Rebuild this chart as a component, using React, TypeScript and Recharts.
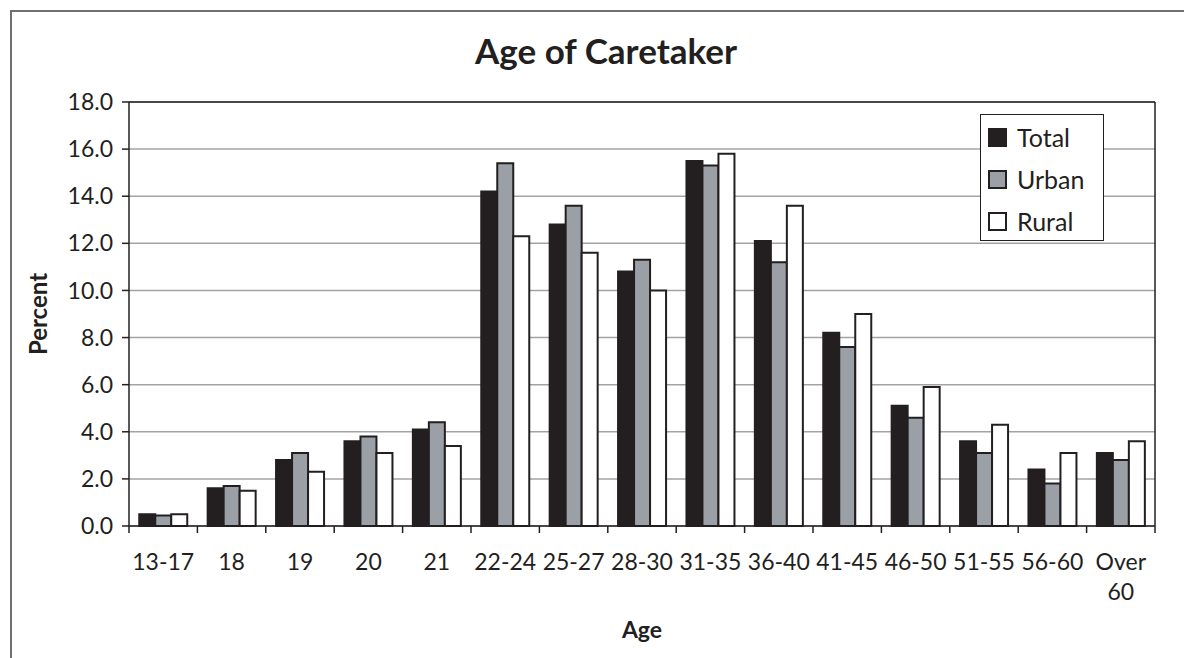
import React from "react";
import { Bar, BarChart, CartesianGrid, Legend, XAxis, YAxis } from "recharts";

const ages = ["13-17", "18", "19", "20", "21", "22-24", "25-27", "28-30", "31-35", "36-40", "41-45", "46-50", "51-55", "56-60", "Over 60"];
const total = [0.5, 1.6, 2.8, 3.6, 4.1, 14.2, 12.8, 10.8, 15.5, 12.1, 8.2, 5.1, 3.6, 2.4, 3.1];
const urban = [0.45, 1.7, 3.1, 3.8, 4.4, 15.4, 13.6, 11.3, 15.3, 11.2, 7.6, 4.6, 3.1, 1.8, 2.8];
const rural = [0.5, 1.5, 2.3, 3.1, 3.4, 12.3, 11.6, 10.0, 15.8, 13.6, 9.0, 5.9, 4.3, 3.1, 3.6];
const yTicks = [0, 2, 4, 6, 8, 10, 12, 14, 16, 18];

const ink = "#231f20";
const font = "Lato, 'Open Sans', sans-serif";

const series = [
  { key: "total", name: "Total", fill: ink },
  { key: "urban", name: "Urban", fill: "#9aa0a6" },
  { key: "rural", name: "Rural", fill: "#ffffff" },
];

const data = ages.map((age, i) => ({ age, total: total[i], urban: urban[i], rural: rural[i] }));

const TICK_MARGIN = 28;

// label at the band centre, tick marks on the band edges (like Excel)
const AgeTick = (props: any) => {
  const { x, y, payload, index } = props;
  const half = payload.offset ?? 0;
  const axisY = y - TICK_MARGIN;
  const isLast = index === ages.length - 1;
  const lines = String(payload.value).split(" ");
  return (
    <g>
      <line x1={x - half} x2={x - half} y1={axisY} y2={axisY + 7} stroke={ink} strokeWidth={1.5} />
      {isLast && <line x1={x + half} x2={x + half} y1={axisY} y2={axisY + 7} stroke={ink} strokeWidth={1.5} />}
      <text x={x} y={y} textAnchor="middle" fill={ink} fontSize={23} fontFamily={font}>
        {lines.map((line, i) => (
          <tspan key={i} x={x} dy={i === 0 ? "0.71em" : 30}>
            {line}
          </tspan>
        ))}
      </text>
    </g>
  );
};

const LegendBox = () => (
  <div
    style={{
      width: 124,
      height: 127,
      boxSizing: "border-box",
      border: `1.5px solid ${ink}`,
      background: "#fff",
      paddingTop: 1,
      fontFamily: font,
      color: ink,
    }}
  >
    {series.map((s) => (
      <div key={s.key} style={{ height: 42, display: "flex", alignItems: "center", paddingLeft: 7 }}>
        <span
          style={{
            width: 19,
            height: 19,
            boxSizing: "border-box",
            background: s.fill,
            border: `2px solid ${ink}`,
            marginRight: 10,
          }}
        />
        <span style={{ fontSize: 25, lineHeight: "25px" }}>{s.name}</span>
      </div>
    ))}
  </div>
);

export default function App() {
  return (
    <div
      style={{
        position: "absolute",
        left: 0,
        top: 0,
        width: 1184,
        height: 658,
        overflow: "hidden",
        background: "#fff",
        fontFamily: font,
      }}
    >
      <div
        style={{
          position: "absolute",
          left: 10,
          top: 10,
          width: 1190,
          height: 720,
          border: "2px solid #707070",
        }}
      />
      <div
        style={{
          position: "absolute",
          left: 11,
          width: 1190,
          top: 29,
          textAlign: "center",
          fontSize: 35,
          fontWeight: 700,
          lineHeight: "normal",
          color: ink,
        }}
      >
        Age of Caretaker
      </div>
      <div style={{ position: "absolute", left: 0, top: 0 }}>
        <BarChart
          width={1184}
          height={658}
          data={data}
          margin={{ top: 101, right: 28, bottom: 0, left: 0 }}
          barGap={0}
          barCategoryGap="15%"
          style={{ fontFamily: font }}
        >
          <CartesianGrid vertical={false} stroke="#a3a3a3" strokeWidth={1.5} />
          <XAxis
            dataKey="age"
            height={132}
            interval={0}
            tickLine={false}
            tickSize={0}
            tickMargin={TICK_MARGIN}
            axisLine={{ stroke: ink, strokeWidth: 1.5 }}
            tick={<AgeTick />}
            label={{
              content: (p: any) => (
                <text
                  x={p.viewBox.x + p.viewBox.width / 2}
                  y={p.viewBox.y + 112}
                  textAnchor="middle"
                  fontSize={23}
                  fontWeight={700}
                  fill={ink}
                  fontFamily={font}
                >
                  Age
                </text>
              ),
            }}
          />
          <XAxis
            xAxisId="top"
            dataKey="age"
            orientation="top"
            height={1}
            tick={false}
            tickLine={false}
            axisLine={{ stroke: ink, strokeWidth: 1.5 }}
          />
          <YAxis
            width={129}
            domain={[0, 18]}
            ticks={yTicks}
            interval={0}
            tickSize={7}
            tickMargin={9}
            tickFormatter={(v: number) => v.toFixed(1)}
            tick={{ fill: ink, fontSize: 23, fontFamily: font }}
            axisLine={{ stroke: ink, strokeWidth: 1.5 }}
            tickLine={{ stroke: ink, strokeWidth: 1.5 }}
            label={{
              content: (p: any) => {
                const cx = p.viewBox.x + 47;
                const cy = p.viewBox.y + p.viewBox.height / 2;
                return (
                  <text
                    x={cx}
                    y={cy}
                    transform={`rotate(-90 ${cx} ${cy})`}
                    textAnchor="middle"
                    fontSize={24}
                    fontWeight={700}
                    fill={ink}
                    fontFamily={font}
                  >
                    Percent
                  </text>
                );
              },
            }}
          />
          <YAxis
            yAxisId="right"
            orientation="right"
            width={1}
            domain={[0, 18]}
            tick={false}
            tickLine={false}
            axisLine={{ stroke: ink, strokeWidth: 1.5 }}
          />
          <Legend
            layout="horizontal"
            verticalAlign="middle"
            align="center"
            wrapperStyle={{ left: 980, top: 114, width: 124, height: 127 }}
            content={() => <LegendBox />}
          />
          {series.map((s) => (
            <Bar
              key={s.key}
              dataKey={s.key}
              name={s.name}
              fill={s.fill}
              stroke={ink}
              strokeWidth={2}
              isAnimationActive={false}
            />
          ))}
        </BarChart>
      </div>
    </div>
  );
}
